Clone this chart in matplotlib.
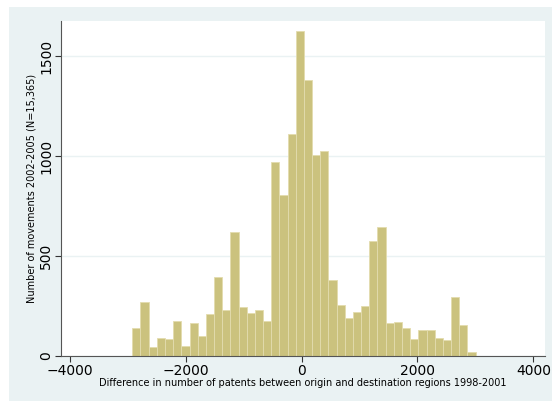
import numpy as np
import matplotlib.pyplot as plt
from matplotlib.patches import Rectangle

# histogram of patent differences, bins
bin_start = -2920
bin_width = 141
counts = [138, 272, 45, 88, 83, 175, 50, 163, 100, 208, 395, 230, 622, 243, 215,
          230, 175, 970, 805, 1108, 1625, 1380, 1003, 1025, 380, 255, 192, 220,
          250, 575, 645, 165, 168, 138, 83, 130, 130, 92, 78, 297, 155, 20]
xticks = [-4000, -2000, 0, 2000, 4000]
yticks = [0, 500, 1000, 1500]

fig = plt.figure(figsize=(5.52, 4.01), dpi=100, facecolor='white')
fig.patches.append(Rectangle((9/552, 0), 543/552, 394/401, transform=fig.transFigure,
                             facecolor='#eaf2f3', edgecolor='none', zorder=-1))
ax = fig.add_axes([61/552, 45/401, 484/552, 335/401])
ax.set_facecolor('white')

lefts = bin_start + bin_width * np.arange(len(counts))
ax.bar(lefts, counts, width=bin_width, align='edge', color='#cbc27e',
       edgecolor='#e3dcae', linewidth=0.6, zorder=2)

ax.set_xlim(-4150, 4200)
ax.set_ylim(0, 1675)
ax.set_xticks(xticks)
ax.set_yticks(yticks)
ax.set_yticklabels([str(t) for t in yticks], rotation=90, va='center')
ax.grid(axis='y', color='#eaf2f3', linewidth=1, zorder=0)
for s in ['top', 'right']:
    ax.spines[s].set_visible(False)
for s in ['left', 'bottom']:
    ax.spines[s].set_color('#555555')
ax.tick_params(labelsize=10, length=4, pad=1.5, color='#333333')
ax.set_xlabel('Difference in number of patents between origin and destination regions 1998-2001',
              fontsize=7, labelpad=0)
ax.set_ylabel('Number of movements 2002-2005 (N=15,365)', fontsize=7, labelpad=2)

fig.savefig('out.png', facecolor=fig.get_facecolor())
